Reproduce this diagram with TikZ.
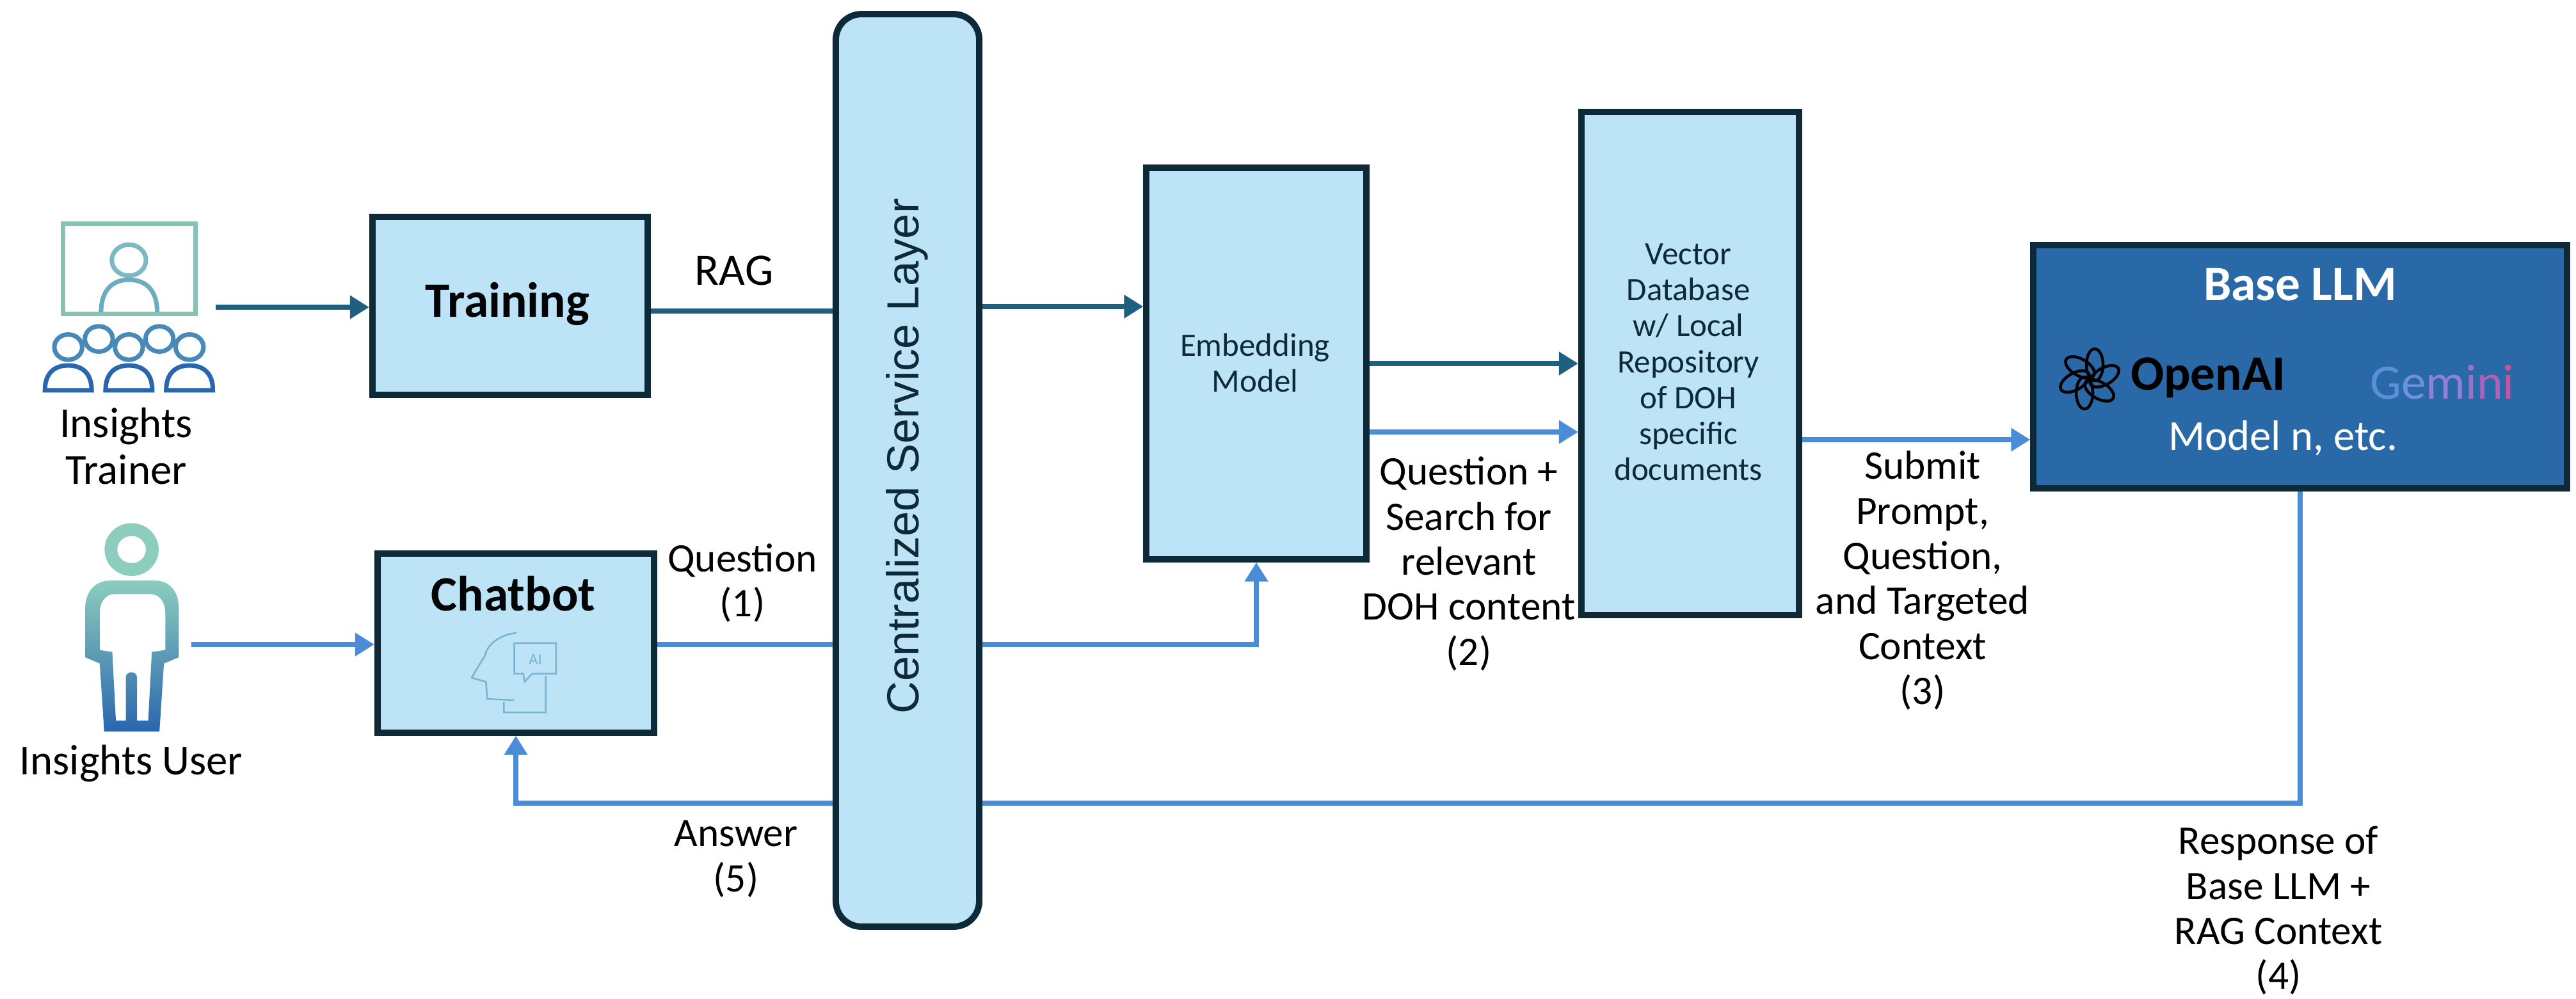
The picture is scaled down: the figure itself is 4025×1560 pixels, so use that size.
\documentclass[tikz,border=0pt]{standalone}
\usepackage{fontspec}
\setmainfont{Carlito}
\newfontfamily\layerfont{Liberation Sans}
\usetikzlibrary{arrows.meta,positioning}
\definecolor{boxfill}{HTML}{BDE3F7}
\definecolor{boxline}{HTML}{0E2A38}
\definecolor{darkflow}{HTML}{1F6080}
\definecolor{blueflow}{HTML}{4A8CD6}
\definecolor{llmfill}{HTML}{2A69A8}
\definecolor{iconteal}{HTML}{8CCDBE}
\definecolor{iconmid}{HTML}{5AA0BE}
\definecolor{iconblue}{HTML}{2A66AE}
\tikzset{
	procbox/.style={rectangle, draw=boxline, fill=boxfill, line width=1mm, align=center},
	layerbox/.style={procbox, rounded corners=4mm},
	llmbox/.style={rectangle, draw=boxline, fill=llmfill, line width=1mm},
	darkarrow/.style={draw=darkflow, line width=0.8mm, -{Triangle[length=3mm,width=3.5mm]}},
	bluearrow/.style={draw=blueflow, line width=0.8mm, -{Triangle[length=3mm,width=3.5mm]}},
	darkline/.style={draw=darkflow, line width=0.8mm},
	blueline/.style={draw=blueflow, line width=0.8mm},
	flowlabel/.style={align=center, font=\fontsize{18}{20}\selectfont},
	userlabel/.style={align=center, font=\fontsize{19}{21}\selectfont},
	boxlabel/.style={align=center, font=\fontsize{14.5}{16}\selectfont, text=boxline},
	titlelabel/.style={font=\fontsize{22}{24}\selectfont\bfseries, text=black!90!boxline},
	iconring/.style={line width=0.7mm}
}
\begin{document}
\begin{tikzpicture}[x=0.01cm,y=-0.01cm]
	\useasboundingbox (0,0) rectangle (4025,1560);
	% boxes
	\node (training) at (797,478) [procbox, minimum width=4.3cm, minimum height=2.78cm] {};
	\node (chatbot) at (806,1005) [procbox, minimum width=4.32cm, minimum height=2.79cm] {};
	\node (csl) at (1418,735) [layerbox, minimum width=2.24cm, minimum height=14.25cm] {};
	\node (embed) at (1963,568) [procbox, minimum width=3.43cm, minimum height=6.11cm] {};
	\node (vecdb) at (2641,568) [procbox, minimum width=3.4cm, minimum height=7.86cm] {};
	\node (llm) at (3594,573) [llmbox, minimum width=8.33cm, minimum height=3.79cm] {};
	% box texts
	\node (trainingtxt) at (793,475) [titlelabel] {Training};
	\node (chatbottxt) at (802,928) [titlelabel] {Chatbot};
	\node (csltxt) at (1417,713) [rotate=90, font=\fontsize{20}{24}\selectfont\layerfont, text=boxline] {Centralized Service Layer};
	\node (embedtxt) at (1961,567) [boxlabel] {Embedding \\ Model};
	\node (vecdbtxt) at (2638,566) [boxlabel] {Vector \\ Database \\ w/ Local \\ Repository \\ of DOH \\ specific \\ documents};
	\node (llmtxt) at (3594,445) [titlelabel, text=white] {Base LLM};
	\node (openaitxt) at (3450,590) [font=\fontsize{22}{24}\selectfont\bfseries, text=black] {OpenAI};
	\node (geminitxt) at (3816,597) [font=\fontsize{22}{24}\selectfont] {\textcolor[HTML]{5B8FD8}{G}\textcolor[HTML]{6F8FE0}{e}\textcolor[HTML]{9080D8}{m}\textcolor[HTML]{A070C8}{i}\textcolor[HTML]{B060B8}{n}\textcolor[HTML]{D050A0}{i}};
	\node (modeltxt) at (3567,685) [font=\fontsize{19}{20}\selectfont, text=white] {Model n, etc.};
	% flow labels
	\node (trainerlbl) at (197,697) [userlabel] {Insights \\ Trainer};
	\node (userlbl) at (205,1193) [userlabel] {Insights User};
	\node (raglbl) at (1147,423) [flowlabel, font=\fontsize{20}{20}\selectfont] {RAG};
	\node (qlbl) at (1160,911) [flowlabel] {Question \\ (1)};
	\node (anslbl) at (1150,1342) [flowlabel] {Answer \\ (5)};
	\node (searchlbl) at (2295,881) [flowlabel] {Question + \\ Search for \\ relevant \\ DOH content \\ (2)};
	\node (submitlbl) at (3004,907) [flowlabel] {Submit \\ Prompt, \\ Question, \\ and Targeted \\ Context \\ (3)};
	\node (resplbl) at (3560,1423) [flowlabel] {Response of \\ Base LLM + \\ RAG Context \\ (4)};
	% free ends
	\coordinate (trainerout) at (337,480);
	\coordinate (userout) at (299,1007);
	\coordinate (retcorner) at (3594,1255);
	% connectors
	\path [darkarrow] (trainerout) -- (training.west|-trainerout);
	\path [darkline] (training.east|-0,486) -- (csl.west|-0,486);
	\path [darkarrow] (csl.east|-0,479) -- (embed.west|-0,479);
	\path [darkarrow] (embed.east|-0,568) -- (vecdb.west|-0,568);
	\path [bluearrow] (embed.east|-0,675) -- (vecdb.west|-0,675);
	\path [bluearrow] (vecdb.east|-0,687) -- (llm.west|-0,687);
	\path [bluearrow] (userout) -- (chatbot.west|-userout);
	\path [blueline] (chatbot.east|-userout) -- (csl.west|-userout);
	\path [bluearrow] (csl.east|-0,1007) -- (embed.south|-0,1007) -- (embed.south);
	\path [blueline] (llm.south) -- (retcorner) -- (csl.east|-retcorner);
	\path [bluearrow] (csl.west|-retcorner) -- (chatbot.south|-retcorner) -- (chatbot.south);
	% openai logo
	\foreach \a in {0,60,...,300}
		\draw [black, line width=0.45mm, shift={(3265,592)}, rotate=\a] (8,-22) ellipse [x radius=13, y radius=25];
	% trainer and user icons
	\begin{scope}[shift={(0,300)}, xscale=0.7018, yscale=0.6378]
		\draw [iconring, draw=iconteal!85!gray] (140,78) rectangle (435,298);
		\draw [iconring, draw=iconteal!90!blue] (287,167) circle (38);
		\draw [iconring, draw=iconmid!70!iconteal] (225,295) .. controls (225,235) and (255,215) .. (287,215) .. controls (320,215) and (350,235) .. (350,295);
		\foreach \cx/\cy in {152/380,220/360,287/380,355/360,422/380}
			\draw [iconring, draw=iconmid!60!iconblue] (\cx,\cy) circle (31);
		\foreach \bx in {100,235,370}
			\draw [iconring, draw=iconblue] (\bx,486) .. controls (\bx,445) and (\bx+20,425) .. (\bx+52,425) .. controls (\bx+84,425) and (\bx+104,445) .. (\bx+104,486) -- cycle;
		\draw [line width=2mm, draw=iconteal] (293,876) ellipse [x radius=46, y radius=49];
		\shade [even odd rule, top color=iconteal, middle color=iconmid, bottom color=iconblue]
			(190,1020) .. controls (190,975) and (215,952) .. (245,952) -- (345,952) .. controls (375,952) and (398,975) .. (398,1020) -- (398,1140) -- (365,1155) -- (355,1322) -- (232,1322) -- (222,1155) -- (190,1140) -- cycle
			(222,1030) .. controls (222,1005) and (235,985) .. (255,985) -- (335,985) .. controls (355,985) and (368,1005) .. (368,1030) -- (368,1122) -- (338,1127) -- (330,1295) -- (305,1295) -- (305,1190) .. controls (305,1172) and (280,1172) .. (280,1190) -- (280,1295) -- (258,1295) -- (250,1127) -- (222,1122) -- cycle;
		% chatbot head
		\draw [line width=0.25mm, draw=iconmid!70!boxfill] (1150,1080) .. controls (1110,1085) and (1085,1110) .. (1080,1135) -- (1050,1190) -- (1082,1200) -- (1085,1242) -- (1145,1245) (1122,1250) -- (1122,1275) -- (1215,1275) -- (1215,1185);
		\draw [line width=0.25mm, draw=iconmid!70!boxfill] (1145,1105) -- (1238,1105) -- (1238,1180) -- (1185,1180) -- (1168,1200) -- (1165,1180) -- (1145,1180) -- cycle;
		\node (aitxt) at (1192,1145) [font=\fontsize{7}{8}\selectfont, text=iconmid!70!boxfill] {AI};
	\end{scope}
\end{tikzpicture}
\end{document}
